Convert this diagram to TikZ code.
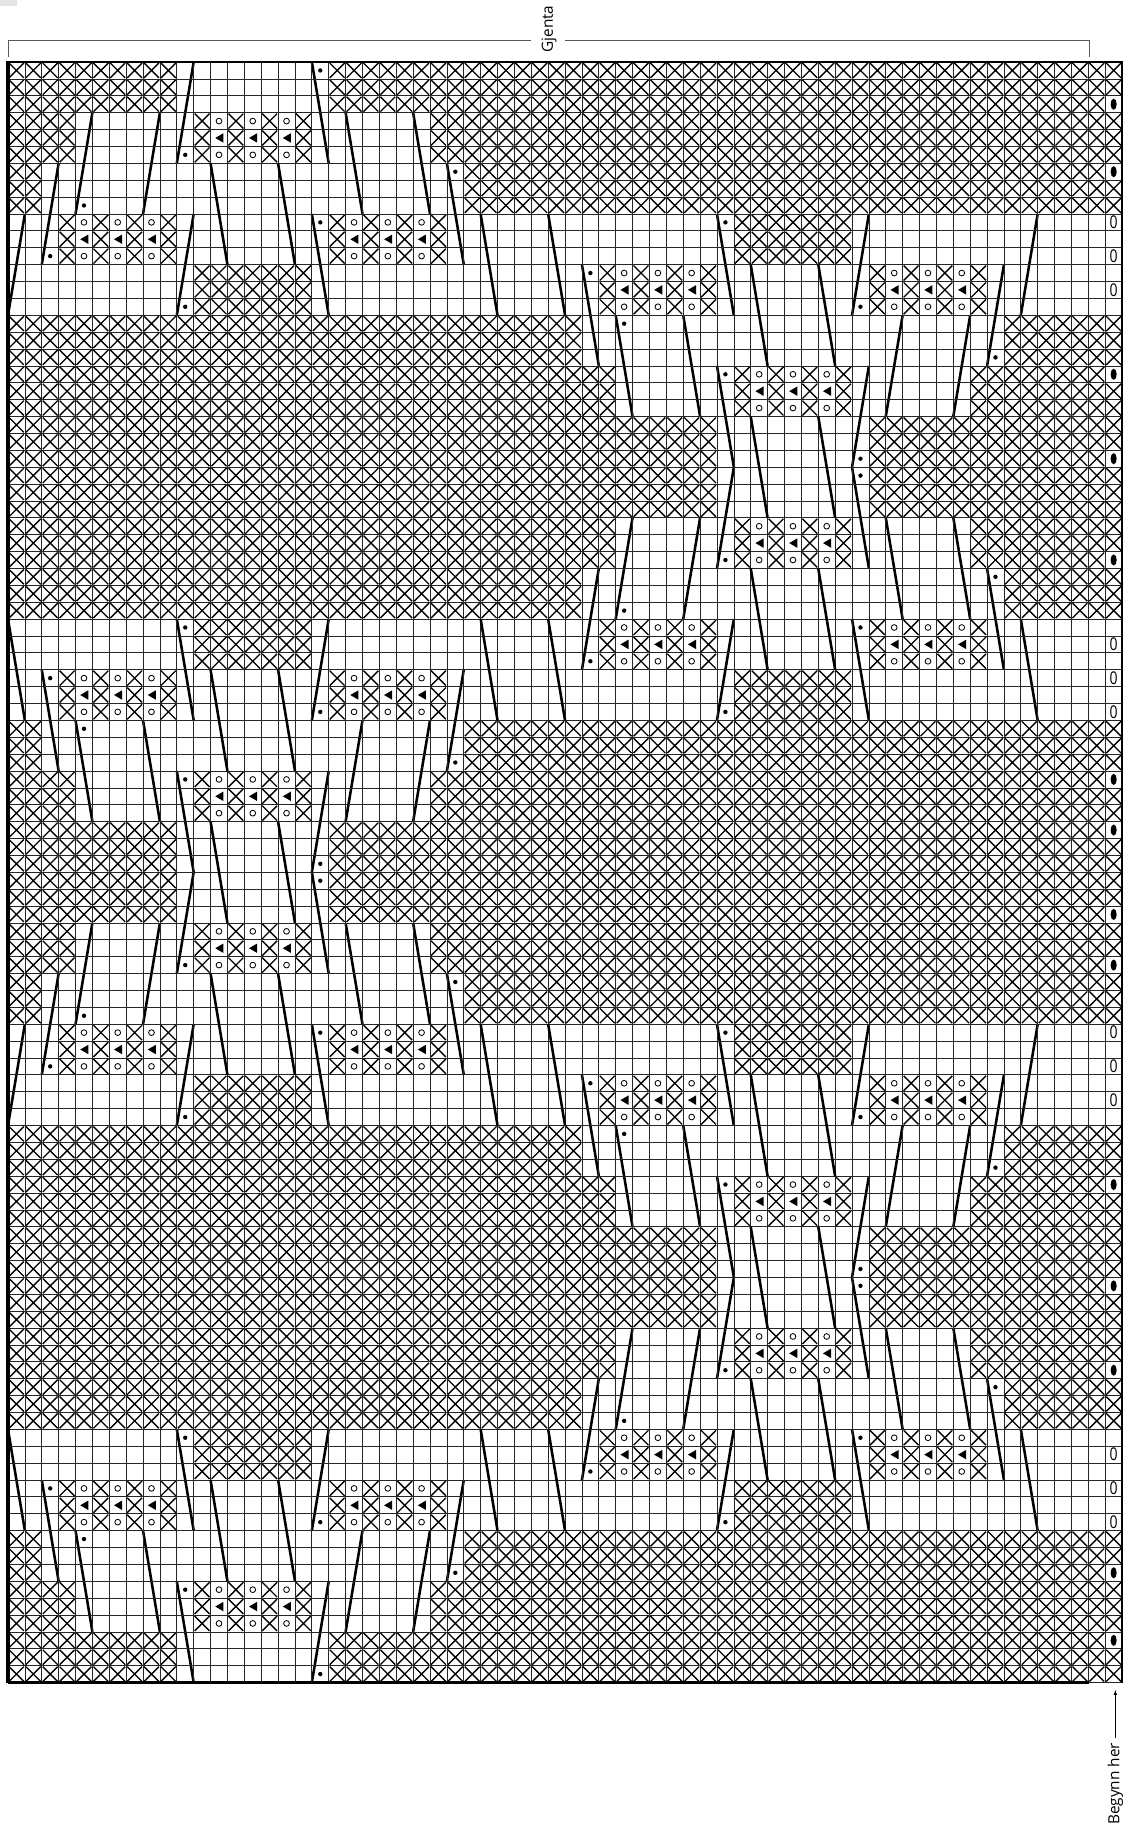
\documentclass[tikz,border=0pt]{standalone}
\usepackage{graphicx}
\usepackage{fontspec}
\setmainfont{Open Sans}
\tikzset{
  gridline/.style={black!85,line width=0.8pt},
  stitch/.style={black,line width=1.55pt},
  slant/.style={black,line width=2.9pt},
  edge/.style={black,line width=2.6pt},
  bracket/.style={black!65,line width=1.1pt},
  hole/.style={black,line width=0.95pt},
  labeltext/.style={font=\fontsize{17.5pt}{20pt}\selectfont,text=black,inner sep=1pt}
}
\newcommand{\xrun}[3]{%
  \foreach \col in {#1,...,#2}
    \foreach \row in {#3,\the\numexpr#3+1\relax,\the\numexpr#3+2\relax}
      \draw[stitch,shift={(\col,\row)}] (.06,.06) -- (.94,.94) (.94,.06) -- (.06,.94);
}
\newcommand{\lace}[2]{%
  \foreach \i in {0,2,4,6} {\xrun{\the\numexpr#1+\i\relax}{\the\numexpr#1+\i\relax}{#2}}
  \foreach \i in {1,3,5} {
    \draw[hole,shift={(#1+\i,#2)}] (.5,.5) circle (.17) (.5,2.5) circle (.17);
    \fill[shift={(#1+\i,#2)}] (.28,1.5) -- (.76,1.22) -- (.76,1.78) -- cycle;
  }
}
\newcommand{\halfchart}{%
  \xrun{0}{9}{0} \xrun{19}{65}{0}
  \xrun{0}{3}{3} \lace{11}{3} \xrun{25}{65}{3}
  \xrun{0}{1}{6} \xrun{27}{65}{6}
  \lace{3}{9} \lace{19}{9} \xrun{43}{49}{9}
  \xrun{11}{17}{12} \lace{35}{12} \lace{51}{12}
  \xrun{0}{33}{15} \xrun{59}{65}{15}
  \xrun{0}{35}{18} \lace{43}{18} \xrun{57}{65}{18}
  \xrun{0}{41}{21} \xrun{51}{65}{21}
  \foreach \col/\row in {18/0,10/5,4/8,26/6,2/11,18/9,42/9,10/14,34/12,50/14,36/15,58/17,42/18,50/23}
    \fill (\col+.5,\row+.5) circle (.13);
  \foreach \cola/\row/\colb in {11/0/10,18/0/19,5/3/4,9/3/8,20/3/21,24/3/25,3/6/2,26/6/27,
      1/9/0,11/9/10,18/9/19,42/9/43,51/9/50,61/9/60,34/12/35,59/12/58,
      36/15/37,40/15/41,53/15/52,57/15/56,42/18/43,51/18/50}
    \draw[slant] (\cola,\row) -- (\colb,\row+6);
}
\begin{document}
\begin{tikzpicture}[x=6.752mm,y=-6.752mm]
  \useasboundingbox (-.474,-3.673) rectangle (66.23,104.56);
  \fill[black!10] (-.474,-3.673) rectangle (.533,-3.347);
  \foreach \base/\dir in {0/1,48/-1,48/1,96/-1} {
    \begin{scope}[shift={(0,\base)},yscale=\dir]
      \halfchart
    \end{scope}
  }
  \foreach \row in {2,6,18,23,29,42,45,50,53,66,72,77,89,93} {
    \fill[white] (65,\row) rectangle (66,\row+1);
    \fill[black] (65.5,\row+.5) ellipse [x radius=.18,y radius=.33];
  }
  \foreach \row in {9,11,13,34,36,38,57,59,61,82,84,86}
    \node[labeltext,inner sep=0pt,font=\fontsize{20pt}{22pt}\selectfont] (zero\row) at (65.5,\row+.5) {\scalebox{.8}[1]{0}};
  \foreach \col in {1,...,65}
    \draw[gridline] (\col,0) -- (\col,96);
  \foreach \row in {1,...,95}
    \draw[gridline] (0,\row) -- (66,\row);
  \foreach \col in {12,16}
    \foreach \row in {6,36,45,54,84}
      \draw[slant] (\col,\row) -- (\col+1,\row+6);
  \foreach \col in {28,32}
    \foreach \row in {9,33,57,81}
      \draw[slant] (\col,\row) -- (\col+1,\row+6);
  \foreach \col in {44,48}
    \foreach \row in {12,21,30,60,69,78}
      \draw[slant] (\col,\row) -- (\col+1,\row+6);
  \draw[edge,line width=3.6pt] (0,-.05) -- (0,96.05);
  \draw[edge] (-.05,0) -- (66.05,0);
  \draw[edge,line width=3pt] (66,0) -- (66,96.05);
  \draw[edge] (0,96) -- (64.04,96);
  \draw[gridline] (64.04,96) -- (66,96);
  \node[labeltext,rotate=90] (gjenta) at (32.05,-1.95) {Gjenta};
  \node[labeltext,rotate=90] (begynn) at (65.6,102) {Begynn her};
  \coordinate (bracketl) at (0,-.3);
  \coordinate (gapl) at (30.98,-1.3);
  \coordinate (gapr) at (33,-1.3);
  \coordinate (bracketr) at (64.04,-.3);
  \coordinate (startpt) at (65.6,96.45);
  \draw[bracket] (bracketl) |- (gapl);
  \draw[bracket] (gapr) -| (bracketr);
  \draw[-latex,line width=.9pt] (65.6,99.3) -- (startpt);
\end{tikzpicture}
\end{document}
